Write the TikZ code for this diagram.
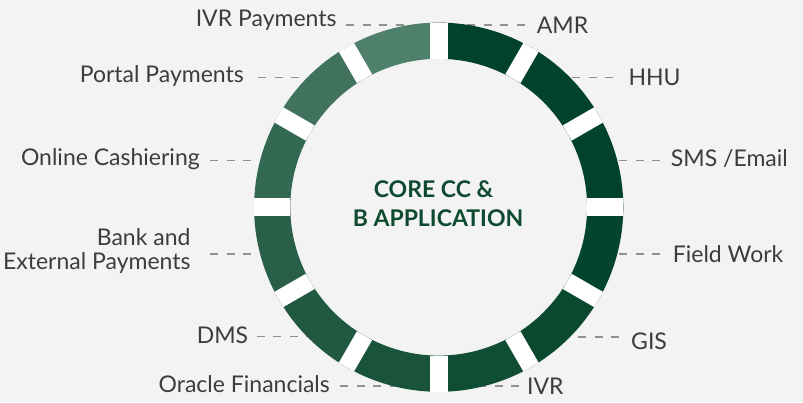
\documentclass[tikz,border=0pt]{standalone}
\usepackage{fontspec}
\setmainfont{Lato}
\definecolor{bg}{HTML}{F3F3F3}
\definecolor{labelgray}{HTML}{3C3C3C}
\definecolor{dashgray}{HTML}{909090}
\definecolor{coregreen}{HTML}{0E4A30}
\definecolor{sA}{HTML}{00432A}
\definecolor{sB}{HTML}{00432A}
\definecolor{sC}{HTML}{00432A}
\definecolor{sD}{HTML}{03452C}
\definecolor{sE}{HTML}{0A4930}
\definecolor{sF}{HTML}{104D35}
\definecolor{sG}{HTML}{18533A}
\definecolor{sH}{HTML}{205940}
\definecolor{sI}{HTML}{295F48}
\definecolor{sJ}{HTML}{336852}
\definecolor{sK}{HTML}{40725D}
\definecolor{sL}{HTML}{4F806C}
\begin{document}
\begin{tikzpicture}[x=1pt,y=-1pt,
  lbl/.style={font=\fontsize{23}{24}\selectfont, text=labelgray, inner sep=0pt},
  conn/.style={draw=dashgray, line width=1.5pt, dash pattern=on 8pt off 8.5pt},
  seg/.style={fill=#1, draw=none},
  gapline/.style={draw=white, line width=17.6pt}]
\fill[bg] (0,0) rectangle (803,402);
\useasboundingbox (0,0) rectangle (803,402);

% labels, left side
\node[lbl, anchor=base east] (ivrp) at (336.7,26.7) {IVR Payments};
\node[lbl, anchor=base east] (portal) at (244,82.3) {Portal Payments};
\node[lbl, anchor=base east] (online) at (200,165) {Online Cashiering};
\node[lbl, anchor=base east, align=right] (bank) at (190.7,269) {Bank and\\External Payments};
\node[lbl, anchor=base east] (dms) at (248.3,343.3) {DMS};
\node[lbl, anchor=base east] (oracle) at (330,392.3) {Oracle Financials};
% labels, right side
\node[lbl, anchor=base west] (amr) at (536.7,33) {AMR};
\node[lbl, anchor=base west] (hhu) at (628.3,85.7) {HHU};
\node[lbl, anchor=base west] (sms) at (670.7,166.7) {SMS /Email};
\node[lbl, anchor=base west] (field) at (672.7,262.3) {Field Work};
\node[lbl, anchor=base west] (gis) at (631,349) {GIS};
\node[lbl, anchor=base west] (ivr) at (527,394) {IVR};

% ring attachment points
\coordinate (r-ivrp) at (412,25);
\coordinate (r-portal) at (313,77.7);
\coordinate (r-online) at (266,160.7);
\coordinate (r-bank) at (266,254);
\coordinate (r-dms) at (313,336.7);
\coordinate (r-oracle) at (399,386);
\coordinate (r-amr) at (466,25);
\coordinate (r-hhu) at (564,77.7);
\coordinate (r-sms) at (611,160.7);
\coordinate (r-field) at (611,254);
\coordinate (r-gis) at (564,337);
\coordinate (r-ivr) at (478,386);

% connectors
\draw[conn, shorten <=9.3pt] (ivrp.east |- r-ivrp) -- (r-ivrp);
\draw[conn, shorten <=14pt] (portal.east |- r-portal) -- (r-portal);
\draw[conn, shorten <=10pt] (online.east |- r-online) -- (r-online);
\draw[conn, shorten <=19.3pt] (bank.east |- r-bank) -- (r-bank);
\draw[conn, shorten <=8.4pt] (dms.east |- r-dms) -- (r-dms);
\draw[conn, shorten <=10pt] (oracle.east |- r-oracle) -- (r-oracle);
\draw[conn, shorten <=12pt] (amr.west |- r-amr) -- (r-amr);
\draw[conn, shorten <=15pt] (hhu.west |- r-hhu) -- (r-hhu);
\draw[conn, shorten <=10.7pt] (sms.west |- r-sms) -- (r-sms);
\draw[conn, shorten <=12.7pt] (field.west |- r-field) -- (r-field);
\draw[conn, shorten <=12pt] (gis.west |- r-gis) -- (r-gis);
\draw[conn, shorten <=8pt] (ivr.west |- r-ivr) -- (r-ivr);

% ring
\begin{scope}[shift={(438.7,207.2)}]
  \foreach \a/\c in {270/sA,300/sB,330/sC,0/sD,30/sE,60/sF,90/sG,120/sH,150/sI,180/sJ,210/sK,240/sL}{
    \path[seg=\c] (\a:184.6) arc[start angle=\a, end angle=\a+30, radius=184.6]
      -- (\a+30:148.4) arc[start angle=\a+30, end angle=\a, radius=148.4] -- cycle;
  }
  \foreach \a in {0,30,...,330}{
    \draw[gapline] (\a:148.4) -- (\a:184.6);
  }
\end{scope}

% centre text
\node[font=\fontsize{23}{28.7}\selectfont\bfseries, text=coregreen, align=center, inner sep=0pt] (core) at (438,203.4) {CORE CC \&\hspace*{9pt}\\B APPLICATION};
\end{tikzpicture}
\end{document}
